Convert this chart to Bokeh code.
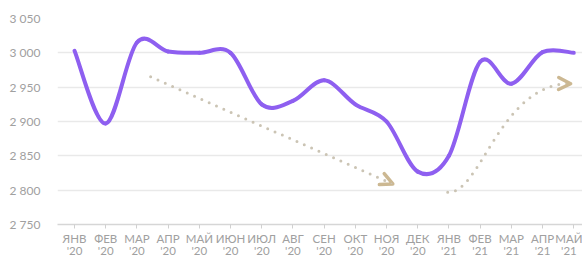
from bokeh.plotting import figure
from bokeh.models import FixedTicker, Arrow, OpenHead, Range1d
from bokeh.embed import file_html
from bokeh.resources import INLINE

# ---- data ----
months = ["ЯНВ\n'20", "ФЕВ\n'20", "МАР\n'20", "АПР\n'20", "МАЙ\n'20", "ИЮН\n'20",
          "ИЮЛ\n'20", "АВГ\n'20", "СЕН\n'20", "ОКТ\n'20", "НОЯ\n'20", "ДЕК\n'20",
          "ЯНВ\n'21", "ФЕВ\n'21", "МАР\n'21", "АПР\n'21", "МАЙ\n'21"]
values = [3003, 2897, 3015, 3002, 3000, 3000, 2925, 2930, 2960, 2925, 2900, 2827,
          2850, 2987, 2955, 3001, 3000]
y_ticks = [2750, 2800, 2850, 2900, 2950, 3000, 3050]
y_tick_labels = ["2 750", "2 800", "2 850", "2 900", "2 950", "3 000", "3 050"]

# trend arrows (month index, value)
trend_down_start = (2.44, 2965)
trend_down_end = (10.2, 2809)
trend_up_start = (11.96, 2797)
trend_up_ctrl1 = (13.01, 2793)
trend_up_ctrl2 = (13.65, 2957)
trend_up_end = (15.9, 2955)

LINE = "#8e5ff0"
DOT = "#cbc4b4"
HEAD = "#ccb892"
GRID = "#e9e9e9"
TXT = "#a0a0a0"
FONT = "Lato"

p = figure(width=582, height=259, output_backend="svg", toolbar_location=None,
           x_range=Range1d(-0.545, 16.28), y_range=Range1d(2750, 3050),
           min_border_left=57, min_border_right=0, min_border_top=18,
           min_border_bottom=34)
p.outline_line_color = None
p.background_fill_color = "white"
p.border_fill_color = "white"

# axes
xi = list(range(len(months)))
p.xaxis.ticker = FixedTicker(ticks=xi)
p.xaxis.major_label_overrides = {i: m for i, m in zip(xi, months)}
p.xaxis.axis_line_color = "#d6d6d6"
p.xaxis.axis_line_width = 1.5
p.xaxis.major_tick_line_color = "#d0d0d0"
p.xaxis.major_tick_out = 4
p.xaxis.major_tick_in = 0
p.xaxis.minor_tick_line_color = None
p.xaxis.major_label_standoff = 3
p.xaxis.major_label_text_line_height = 0.95
p.xaxis.major_label_text_font_size = "11.5px"
p.xaxis.major_label_text_color = TXT
p.xaxis.major_label_text_font = FONT

p.yaxis.ticker = FixedTicker(ticks=y_ticks)
p.yaxis.major_label_overrides = {t: l for t, l in zip(y_ticks, y_tick_labels)}
p.yaxis.axis_line_color = None
p.yaxis.major_tick_line_color = None
p.yaxis.minor_tick_line_color = None
p.yaxis.major_label_standoff = 11
p.yaxis.major_label_text_font_size = "12px"
p.yaxis.major_label_text_color = TXT
p.yaxis.major_label_text_font = FONT

p.xgrid.grid_line_color = None
p.ygrid.grid_line_color = GRID
p.ygrid.grid_line_width = 1.5

# smooth (Catmull-Rom) line as bezier segments built from the data
n = len(values)
def pt(k):
    k = max(0, min(n - 1, k))
    return xi[k], values[k]
x0, y0, x1, y1, cx0, cy0, cx1, cy1 = [], [], [], [], [], [], [], []
for i in range(n - 1):
    pa, pb, pc, pd = pt(i - 1), pt(i), pt(i + 1), pt(i + 2)
    x0.append(pb[0]); y0.append(pb[1]); x1.append(pc[0]); y1.append(pc[1])
    cx0.append(pb[0] + (pc[0] - pa[0]) / 6); cy0.append(pb[1] + (pc[1] - pa[1]) / 6)
    cx1.append(pc[0] - (pd[0] - pb[0]) / 6); cy1.append(pc[1] - (pd[1] - pb[1]) / 6)

# dotted trend arrows
p.add_layout(Arrow(x_start=trend_down_start[0], y_start=trend_down_start[1],
                   x_end=trend_down_end[0], y_end=trend_down_end[1],
                   line_color=DOT, line_width=3, line_dash="0 8", line_cap="round",
                   end=OpenHead(size=12, line_color=HEAD, line_width=3.5,
                                line_cap="round", line_join="round")))
p.bezier(x0=[trend_up_start[0]], y0=[trend_up_start[1]],
         x1=[trend_up_end[0]], y1=[trend_up_end[1]],
         cx0=[trend_up_ctrl1[0]], cy0=[trend_up_ctrl1[1]],
         cx1=[trend_up_ctrl2[0]], cy1=[trend_up_ctrl2[1]],
         line_color=DOT, line_width=3, line_dash="0 8", line_cap="round")
p.add_layout(Arrow(x_start=trend_up_ctrl2[0], y_start=trend_up_ctrl2[1],
                   x_end=trend_up_end[0], y_end=trend_up_end[1],
                   line_alpha=0, line_width=0,
                   end=OpenHead(size=12, line_color=HEAD, line_width=3.5,
                                line_cap="round", line_join="round")))

p.bezier(x0=x0, y0=y0, x1=x1, y1=y1, cx0=cx0, cy0=cy0, cx1=cx1, cy1=cy1,
         line_color=LINE, line_width=4, line_cap="round")

open("out.html", "w").write(file_html(p, INLINE))
